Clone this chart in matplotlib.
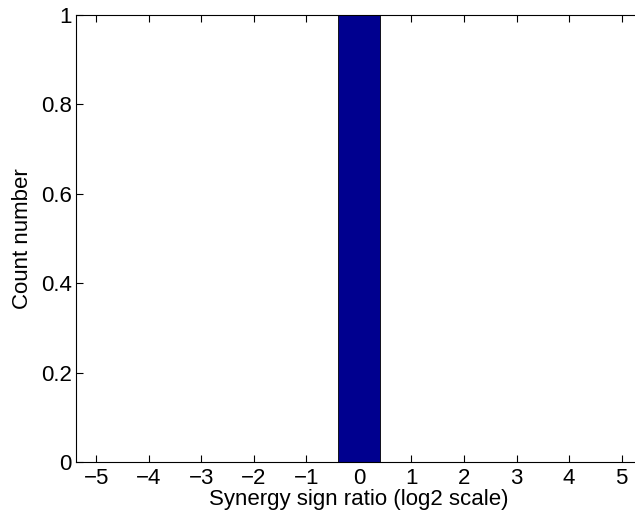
import matplotlib
matplotlib.use("Agg")
import matplotlib.pyplot as plt

# histogram bins (log2 of synergy sign ratio) and counts
bin_centers = [-5, -4, -3, -2, -1, 0, 1, 2, 3, 4, 5]
counts = [0, 0, 0, 0, 0, 1, 0, 0, 0, 0, 0]
y_ticks = [0, 0.2, 0.4, 0.6, 0.8, 1]
y_tick_labels = ["0", "0.2", "0.4", "0.6", "0.8", "1"]

plt.rcParams["font.family"] = ["Liberation Sans", "DejaVu Sans"]

fig = plt.figure(figsize=(6.35, 5.15), dpi=100)
ax = fig.add_axes([0.1197, 0.1029, 0.8913, 0.8680])

ax.bar(bin_centers, counts, width=0.8, color="#00008F",
       edgecolor="black", linewidth=0.6, zorder=2)

ax.set_xlim(-5.39, 5.39)
ax.set_ylim(0, 1)
ax.set_xticks(bin_centers)
ax.set_xticklabels([str(v).replace("-", "\u2212") for v in bin_centers])
ax.set_yticks(y_ticks)
ax.set_yticklabels(y_tick_labels)

# axes run past the right edge of the picture, so no right spine shows
ax.spines["right"].set_visible(False)
ax.tick_params(direction="in", length=5, width=0.8, labelsize=16,
               top=True, right=False, pad=3)
ax.tick_params(axis="x", pad=4)
for spine in ax.spines.values():
    spine.set_linewidth(0.8)

ax.set_xlabel("Synergy sign ratio (log2 scale)", fontsize=16, labelpad=0)
ax.set_ylabel("Count number", fontsize=16, labelpad=6)

fig.savefig("out.png", dpi=100)
